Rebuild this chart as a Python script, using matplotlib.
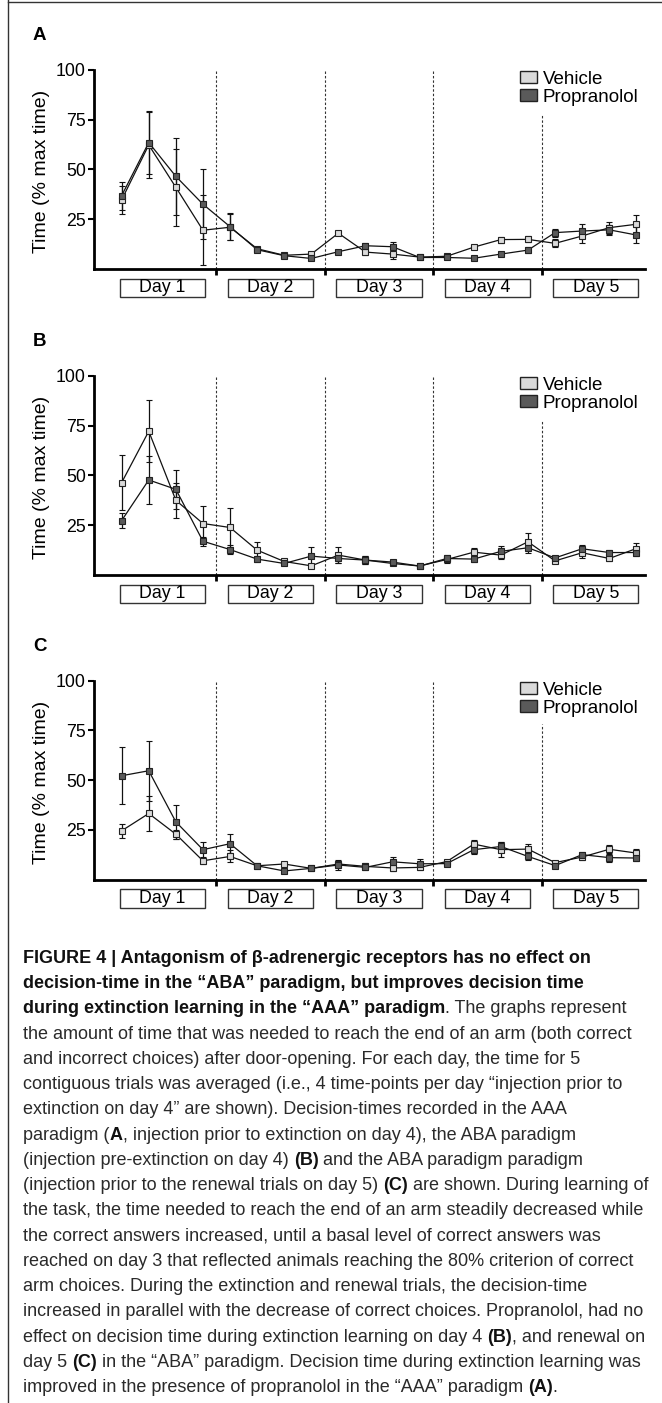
import matplotlib
matplotlib.use("Agg")
import matplotlib.pyplot as plt
import matplotlib.transforms as mtransforms
from matplotlib.patches import Rectangle, Patch
from matplotlib.lines import Line2D
from matplotlib import font_manager
import numpy as np

# trials (5 per day averaged -> 4 time points per day)
trial = np.arange(20)
days = ["Day 1", "Day 2", "Day 3", "Day 4", "Day 5"]
day_breaks = [3.5, 7.5, 11.5, 15.5]
yticks = [25, 50, 75, 100]

# panel A (AAA)
veh_A = [34.7, 62.3, 41.0, 19.4, 20.9, 10.1, 6.8, 7.4, 17.9, 8.4, 7.4, 5.9, 6.3, 10.9, 14.7, 14.8, 12.8, 16.5, 20.7, 22.4]
veh_A_err = [7.0, 16.7, 19.5, 17.7, 6.5, 1.0, 0.8, 1.0, 1.0, 1.5, 2.5, 1.0, 1.0, 1.0, 1.5, 1.5, 2.0, 3.5, 3.0, 4.5]
pro_A = [36.8, 63.5, 46.5, 32.5, 21.2, 9.6, 6.6, 5.2, 8.6, 11.6, 11.1, 5.7, 5.7, 5.3, 7.4, 9.4, 18.2, 19.0, 19.6, 17.0]
pro_A_err = [7.0, 16.0, 19.3, 17.5, 6.8, 1.0, 0.8, 1.0, 1.0, 1.5, 2.5, 1.0, 1.0, 1.0, 1.2, 1.5, 2.0, 3.5, 2.5, 4.0]

# panel B (ABA, injection day 4)
veh_B = [46.4, 72.2, 37.5, 25.8, 23.8, 12.4, 6.7, 4.5, 9.9, 7.4, 5.7, 4.4, 7.7, 11.4, 9.9, 16.6, 7.0, 11.1, 8.2, 13.2]
veh_B_err = [13.7, 15.6, 8.8, 8.7, 9.9, 4.2, 1.0, 1.0, 4.2, 2.0, 1.0, 0.8, 1.7, 2.0, 2.0, 4.2, 1.0, 2.5, 1.5, 3.0]
pro_B = [27.3, 47.7, 43.0, 16.9, 12.7, 7.9, 5.7, 9.4, 8.2, 7.4, 6.4, 4.4, 8.2, 7.9, 11.8, 13.6, 8.5, 13.1, 11.2, 11.2]
pro_B_err = [3.8, 12.0, 9.8, 2.3, 2.1, 1.5, 1.0, 4.7, 2.2, 2.0, 1.0, 0.8, 1.7, 1.5, 2.5, 2.5, 1.0, 2.0, 1.5, 1.5]

# panel C (ABA, injection day 5)
veh_C = [24.5, 33.2, 22.8, 9.4, 11.6, 6.9, 7.8, 5.6, 7.8, 6.6, 5.8, 6.1, 9.0, 17.8, 15.0, 15.3, 8.5, 11.3, 15.2, 13.3]
veh_C_err = [3.4, 8.8, 2.3, 1.5, 3.0, 0.8, 1.2, 0.8, 1.5, 1.5, 1.5, 1.2, 1.0, 2.0, 3.8, 2.5, 1.0, 1.5, 2.0, 2.0]
pro_C = [52.2, 54.7, 29.0, 15.0, 18.0, 6.9, 4.3, 5.6, 7.3, 6.1, 8.9, 7.9, 8.0, 15.0, 16.6, 11.6, 7.0, 12.5, 11.0, 10.8]
pro_C_err = [14.3, 15.1, 8.7, 3.8, 4.8, 0.8, 1.2, 0.8, 2.5, 1.5, 2.4, 2.3, 1.0, 2.0, 2.5, 2.0, 1.0, 1.5, 2.0, 1.5]

caption = [
    [("FIGURE 4 | Antagonism of β-adrenergic receptors has no effect on", "bold")],
    [("decision-time in the “ABA” paradigm, but improves decision time", "bold")],
    [("during extinction learning in the “AAA” paradigm", "bold"), (". The graphs represent", "normal")],
    [("the amount of time that was needed to reach the end of an arm (both correct", "normal")],
    [("and incorrect choices) after door-opening. For each day, the time for 5", "normal")],
    [("contiguous trials was averaged (i.e., 4 time-points per day “injection prior to", "normal")],
    [("extinction on day 4” are shown). Decision-times recorded in the AAA", "normal")],
    [("paradigm (", "normal"), ("A", "bold"), (", injection prior to extinction on day 4), the ABA paradigm", "normal")],
    [("(injection pre-extinction on day 4) ", "normal"), ("(B)", "bold"), (" and the ABA paradigm paradigm", "normal")],
    [("(injection prior to the renewal trials on day 5) ", "normal"), ("(C)", "bold"), (" are shown. During learning of", "normal")],
    [("the task, the time needed to reach the end of an arm steadily decreased while", "normal")],
    [("the correct answers increased, until a basal level of correct answers was", "normal")],
    [("reached on day 3 that reflected animals reaching the 80% criterion of correct", "normal")],
    [("arm choices. During the extinction and renewal trials, the decision-time", "normal")],
    [("increased in parallel with the decrease of correct choices. Propranolol, had no", "normal")],
    [("effect on decision time during extinction learning on day 4 ", "normal"), ("(B)", "bold"), (", and renewal on", "normal")],
    [("day 5 ", "normal"), ("(C)", "bold"), (" in the “ABA” paradigm. Decision time during extinction learning was", "normal")],
    [("improved in the presence of propranolol in the “AAA” paradigm ", "normal"), ("(A)", "bold"), (".", "normal")],
]

installed = {f.name for f in font_manager.fontManager.ttflist}
plt.rcParams["font.family"] = ["Liberation Sans" if "Liberation Sans" in installed else "DejaVu Sans", "DejaVu Sans"]

W, H = 662, 1403
fig = plt.figure(figsize=(W / 100, H / 100), dpi=100)


def px_rect(left, top, right, bottom):
    return [left / W, 1 - bottom / H, (right - left) / W, (bottom - top) / H]


def panel(top, letter, veh, veh_err, pro, pro_err):
    ax = fig.add_axes(px_rect(93.5, top, 645, top + 198.8))
    ax.set_xlim(-1.04, 19.32)
    ax.set_ylim(0, 100)
    for i, x in enumerate(day_breaks):
        ax.axvline(x, ymin=0, ymax=0.78 if i == 3 else 1.0, color="#333333",
                   lw=0.8, ls=(0, (2.2, 1.8)), zorder=1)
    ax.errorbar(trial, veh, yerr=veh_err, fmt="-s", color="#111111", mfc="#dadada",
                mec="#222222", ms=4.5, mew=0.8, lw=0.9, elinewidth=0.9,
                capsize=2, capthick=0.9, zorder=3)
    ax.errorbar(trial, pro, yerr=pro_err, fmt="-s", color="#111111", mfc="#5a5a5a",
                mec="#222222", ms=4.5, mew=0.8, lw=0.9, elinewidth=0.9,
                capsize=2, capthick=0.9, zorder=3)
    for s in ["top", "right"]:
        ax.spines[s].set_visible(False)
    ax.spines["left"].set_linewidth(2)
    ax.spines["bottom"].set_linewidth(2)
    ax.set_yticks(yticks)
    ax.set_yticklabels([str(v) for v in yticks], fontsize=12.8)
    ax.tick_params(axis="y", length=4.5, width=1.5, pad=1)
    ax.set_xticks(day_breaks)
    ax.set_xticklabels([])
    ax.tick_params(axis="x", length=4.5, width=2, direction="out")
    ax.text(-0.0935, 0.49, "Time (% max time)", rotation=90, transform=ax.transAxes,
            ha="center", va="center", fontsize=14)

    trans = mtransforms.blended_transform_factory(ax.transData, ax.transAxes)
    for d, name in enumerate(days):
        cx = 1.5 + 4 * d
        ax.add_patch(Rectangle((cx - 1.57, -0.142), 3.14, 0.093, transform=trans,
                               clip_on=False, fill=False, ec="#333333", lw=1))
        ax.text(cx, -0.096, name, transform=trans, ha="center", va="center", fontsize=12.8)

    handles = [Patch(fc="#dadada", ec="#222222", lw=1, label="Vehicle"),
               Patch(fc="#5a5a5a", ec="#222222", lw=1, label="Propranolol")]
    ax.legend(handles=handles, loc="upper left", bbox_to_anchor=(520 / W, 1 - (top + 1) / H),
              bbox_transform=fig.transFigure, frameon=False, borderpad=0, borderaxespad=0,
              fontsize=13.5, handlelength=0.9, handleheight=0.6, handletextpad=0.3,
              labelspacing=0.05)

    fig.text(33 / W, 1 - (top - 34) / H, letter, fontsize=13.5, fontweight="bold",
             ha="left", va="center")
    return ax


panel(70, "A", veh_A, veh_A_err, pro_A, pro_A_err)
panel(376, "B", veh_B, veh_B_err, pro_B, pro_B_err)
panel(680.7, "C", veh_C, veh_C_err, pro_C, pro_C_err)

# frame lines (left and top)
fig.add_artist(Line2D([8 / W, 8 / W], [0, 1], transform=fig.transFigure, color="#333333", lw=1))
fig.add_artist(Line2D([8 / W, 1], [1 - 1.5 / H, 1 - 1.5 / H], transform=fig.transFigure, color="#333333", lw=1))

# caption, drawn segment by segment so bold and regular runs can share a line
renderer = fig.canvas.get_renderer()


def text_w(s, weight, size):
    t = fig.text(0, 0, "|" + s + "|", fontsize=size, fontweight=weight)
    b = fig.text(0, 0, "||", fontsize=size, fontweight=weight)
    w = t.get_window_extent(renderer).width - b.get_window_extent(renderer).width
    t.remove()
    b.remove()
    return w


cap_size = 12 * 611 / text_w(caption[3][0][0], "normal", 12)
for k, line in enumerate(caption):
    x = 23.0
    y = 963 + 25.24 * k
    for s, weight in line:
        fig.text(x / W, 1 - y / H, s, fontsize=cap_size, fontweight=weight,
                 color="#111111" if weight == "bold" else "#2a2a2a", ha="left", va="baseline")
        x += text_w(s, weight, cap_size)

fig.savefig("out.png", dpi=100)
